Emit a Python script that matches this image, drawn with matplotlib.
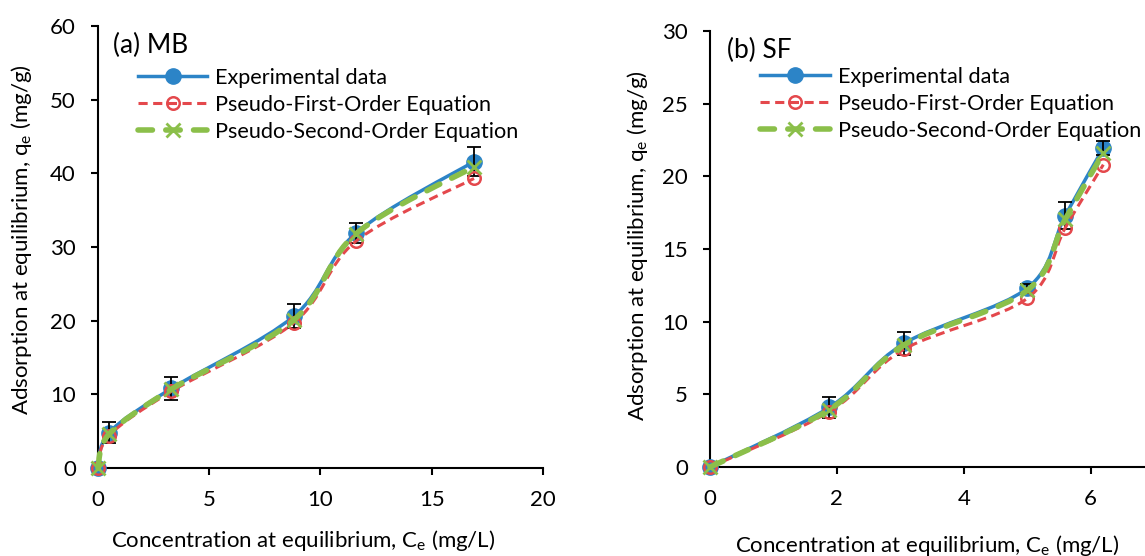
import numpy as np
import matplotlib
matplotlib.use('Agg')
import matplotlib.pyplot as plt
from matplotlib.path import Path
from matplotlib.patches import PathPatch
from matplotlib.lines import Line2D

plt.rcParams['font.family'] = ['Lato', 'DejaVu Sans']

# (a) MB
mb_ce = [0, 0.5, 3.3, 8.8, 11.6, 16.9]
mb_exp = [0, 4.8, 10.8, 20.6, 31.9, 41.6]
mb_err = [0, 1.4, 1.6, 1.6, 1.3, 2.0]
mb_pfo = [0, 4.4, 10.4, 19.7, 30.8, 39.3]
mb_pso = [0, 4.6, 10.7, 20.1, 31.8, 40.9]

# (b) SF
sf_ce = [0, 1.88, 3.06, 5.0, 5.6, 6.2]
sf_exp = [0, 4.1, 8.5, 12.3, 17.3, 21.95]
sf_err = [0, 0.7, 0.8, 0.3, 0.95, 0.45]
sf_pfo = [0, 3.8, 8.1, 11.6, 16.45, 20.8]
sf_pso = [0, 3.95, 8.4, 12.15, 17.05, 21.6]

labels = ['Experimental data', 'Pseudo-First-Order Equation', 'Pseudo-Second-Order Equation']

blue = '#2C84C7'
red = '#E4484C'
green = '#8BBF4A'

pfo_ls = (0, (3.0, 1.8))
pso_ls = (0, (2.6, 2.4))


def smooth(x, y):
    # excel-like smoothed line (catmull-rom bezier)
    p = np.column_stack([x, y]).astype(float)
    pts = [p[0]]
    codes = [Path.MOVETO]
    for i in range(len(p) - 1):
        a = p[max(i - 1, 0)]
        d = p[min(i + 2, len(p) - 1)]
        pts += [p[i] + (p[i + 1] - a) / 6, p[i + 1] - (d - p[i]) / 6, p[i + 1]]
        codes += [Path.CURVE4] * 3
    return Path(pts, codes)


def draw(ax, x, exp, err, pfo, pso, xmax, xstep, ymax, ystep, tag, leg_xy, tag_xy, xl_xy, yl_xy):
    ax.add_patch(PathPatch(smooth(x, exp), fill=False, edgecolor=blue, lw=2.5, zorder=2, clip_on=False))
    ax.plot(x, exp, 'o', color=blue, ms=11, zorder=2, clip_on=False)
    ax.errorbar(x[1:], exp[1:], yerr=err[1:], fmt='none', ecolor='black',
                elinewidth=1.3, capsize=5, capthick=1.3, zorder=3)
    ax.add_patch(PathPatch(smooth(x, pfo), fill=False, edgecolor=red, lw=2.2,
                           linestyle=pfo_ls, zorder=4, clip_on=False))
    ax.plot(x, pfo, 'o', mfc='none', mec=red, ms=9, mew=1.8, zorder=4, clip_on=False)
    ax.add_patch(PathPatch(smooth(x, pso), fill=False, edgecolor=green, lw=4.0,
                           linestyle=pso_ls, capstyle='round', zorder=5, clip_on=False))
    ax.plot(x, pso, 'x', color=green, ms=10, mew=2, zorder=5, clip_on=False)

    ax.set_xlim(0, xmax)
    ax.set_ylim(0, ymax)
    ax.set_xticks(np.arange(0, xmax + 0.01, xstep))
    ax.set_yticks(np.arange(0, ymax + 0.01, ystep))
    for s in ['top', 'right']:
        ax.spines[s].set_visible(False)
    for s in ['left', 'bottom']:
        ax.spines[s].set_linewidth(1.5)
        ax.spines[s].set_zorder(1)
    ax.tick_params(direction='out', length=5, width=1.5, labelsize=16)
    ax.tick_params(axis='x', pad=11)
    ax.tick_params(axis='y', pad=11)
    ax.patch.set_alpha(0)

    handles = [
        Line2D([], [], color=blue, lw=2.5, marker='o', ms=11),
        Line2D([], [], color=red, lw=2.2, ls=pfo_ls, marker='o', mfc='none', mec=red, ms=9, mew=1.8),
        Line2D([], [], color=green, lw=4.0, ls=pso_ls, dash_capstyle='round',
               marker='x', ms=10, mew=2),
    ]
    ax.legend(handles, labels, loc='upper left', bbox_to_anchor=leg_xy, frameon=False,
              fontsize=15.6, handlelength=3.2, handletextpad=0.37, labelspacing=0.32,
              borderpad=0, borderaxespad=0, numpoints=1)
    ax.text(tag_xy[0], tag_xy[1], tag, transform=ax.transAxes, fontsize=19, va='center', ha='left')

    ax.set_xlabel(r'Concentration at equilibrium, C$_\mathregular{e}$ (mg/L)', fontsize=16)
    ax.set_ylabel(r'Adsorption at equilibrium, q$_\mathregular{e}$ (mg/g)', fontsize=16)
    ax.xaxis.set_label_coords(*xl_xy)
    ax.yaxis.set_label_coords(*yl_xy)
    ax.xaxis.label.set_va('center')
    ax.yaxis.label.set_va('center')


fig = plt.figure(figsize=(11.45, 5.56), dpi=100)
ax1 = fig.add_axes([0.0856, 0.1583, 0.3886, 0.7950])
ax2 = fig.add_axes([0.6201, 0.1601, 0.3878, 0.7842])

draw(ax1, mb_ce, mb_exp, mb_err, mb_pfo, mb_pso, 20, 5, 60, 10, '(a) MB',
     (0.09, 0.905), (0.034, 0.955), (0.461, -0.163), (-0.171, 0.516))
draw(ax2, sf_ce, sf_exp, sf_err, sf_pfo, sf_pso, 7, 2, 30, 5, '(b) SF',
     (0.113, 0.918), (0.038, 0.956), (0.489, -0.179), (-0.164, 0.507))

fig.savefig('out.png', dpi=100)
